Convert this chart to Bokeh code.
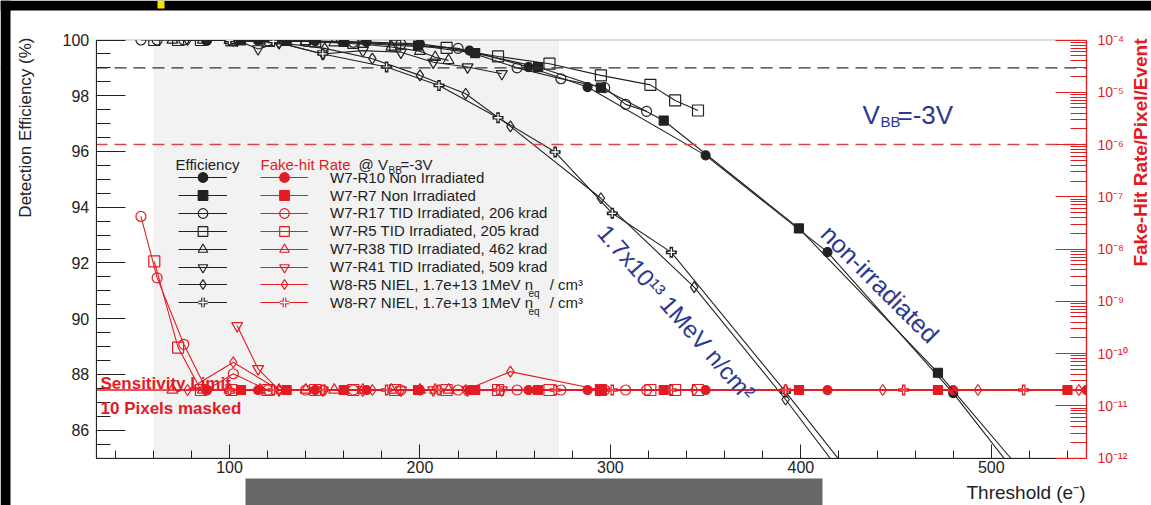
import math
from bokeh.plotting import figure
from bokeh.models import (Range1d, LogScale, LinearAxis, LogAxis, FixedTicker,
                          CustomJSTickFormatter, Span, BoxAnnotation, Label, Legend, LegendItem)
from bokeh.embed import file_html
from bokeh.resources import INLINE

# ---------------- data ----------------
LIM = 2e-11  # sensitivity limit (10 pixels masked)

names = ["W7-R10 Non Irradiated", "W7-R7 Non Irradiated",
         "W7-R17 TID Irradiated, 206 krad", "W7-R5 TID Irradiated, 205 krad",
         "W7-R38 TID Irradiated, 462 krad", "W7-R41 TID Irradiated, 509 krad",
         "W8-R5 NIEL, 1.7e+13 1MeV n    / cm\u00b3", "W8-R7 NIEL, 1.7e+13 1MeV n    / cm\u00b3"]

thr_r10 = [88, 115, 145, 172, 200, 226, 257, 288, 350, 414, 480, 550]
eff_r10 = [99.99, 99.98, 99.96, 99.93, 99.86, 99.62, 99.03, 98.31, 95.86, 92.39, 87.33, 81.2]
fhr_r10 = [LIM] * 12

thr_r7 = [106, 130, 160, 199, 229, 262, 295, 328, 399, 472, 540]
eff_r7 = [99.99, 99.97, 99.93, 99.80, 99.53, 99.03, 98.29, 97.11, 93.24, 88.06, 82.6]
fhr_r7 = [LIM] * 11

thr_r17 = [53.5, 62, 76, 88, 102, 120, 140, 165, 190, 220, 251, 274, 297, 308, 319]
eff_r17 = [100, 100, 100, 99.99, 99.98, 99.97, 99.95, 99.92, 99.85, 99.7, 99.0, 98.61, 98.29, 97.69, 97.44]
fhr_r17 = [4.2e-8, 2.8e-9, 1.5e-10, LIM, 4.1e-11, LIM, LIM, LIM, LIM, LIM, LIM, LIM, LIM, LIM, LIM]

thr_r5 = [60.5, 73, 85, 101, 120, 145, 165, 187, 214, 241, 268, 295, 321, 334, 346]
eff_r5 = [100, 100, 100, 99.99, 99.97, 99.95, 99.9, 99.80, 99.72, 99.41, 99.15, 98.73, 98.39, 97.83, 97.47]
fhr_r5 = [5.8e-9, 1.3e-10, LIM, LIM, LIM, LIM, LIM, LIM, LIM, LIM, LIM, LIM, LIM, LIM, LIM]

thr_r38 = [70, 86, 100, 116, 126, 140, 155, 170, 185, 200, 208, 215]
eff_r38 = [100, 100, 99.99, 99.98, 99.97, 99.95, 99.9, 99.85, 99.75, 99.6, 99.38, 99.27]
fhr_r38 = [LIM] * 12

thr_r41 = [104, 115, 126, 149, 170, 190, 207, 225, 243]
eff_r41 = [99.99, 99.68, 99.9, 99.5, 99.62, 99.56, 99.2, 99.03, 98.79]
fhr_r41 = [3.4e-10, 5.1e-11, LIM, LIM, LIM, LIM, LIM, LIM, LIM]

thr_w8r5 = [78, 102, 126, 150, 175, 200, 224, 247.5, 295, 344, 392, 443, 493, 546]
eff_w8r5 = [100, 99.98, 99.9, 99.7, 99.33, 98.73, 98.07, 96.9, 94.32, 91.13, 87.1, 82.5, 76.5, 69.0]
fhr_w8r5 = [LIM, 6.8e-11, LIM, LIM, LIM, LIM, LIM, 4.5e-11, LIM, LIM, LIM, LIM, LIM, LIM]

thr_w8r7 = [100, 123, 149, 182.5, 210, 241, 271, 301, 332, 392, 454, 517]
eff_w8r7 = [99.99, 99.95, 99.5, 99.03, 98.37, 97.21, 95.98, 93.78, 92.38, 87.37, 82.0, 75.0]
fhr_w8r7 = [LIM] * 12

eff_ticks = [86, 88, 90, 92, 94, 96, 98, 100]
eff_minor = [85 + 0.5 * i for i in range(31)]
thr_ticks = [100, 200, 300, 400, 500]
thr_minor = list(range(40, 551, 20))
fhr_ticks = [10.0 ** k for k in range(-12, -3)]
fhr_minor = [m * 10.0 ** k for k in range(-12, -4) for m in range(2, 10)]

# ---------------- geometry (pixel box of the axes inside the 1151x505 canvas) ----------------
W, H = 1151, 505
PX_L, PX_R, PX_T, PX_B = 95.7, 1086.0, 39.5, 457.5
X0, X1, Y0, Y1 = 30, 550, 85, 100
F0, F1 = 1e-12, 1e-4
kx = (PX_R - PX_L) / (X1 - X0)
ky = (PX_B - PX_T) / (Y1 - Y0)
kl = (PX_B - PX_T) / (math.log10(F1) - math.log10(F0))

def fx(px):
    return X0 + (px - PX_L) / kx

def fy(py):
    return Y0 + (PX_B - py) / ky

FONT = "Liberation Sans"
RED = "#e31b23"
BLUE = "#2b3990"
INK = "#222222"

p = figure(width=W, height=H, x_range=Range1d(fx(0), fx(W)), y_range=Range1d(fy(H), fy(0)),
           output_backend="svg", toolbar_location=None, min_border=0,
           x_axis_location=None, y_axis_location=None,
           background_fill_color="white", border_fill_color="white")
p.grid.visible = False
p.outline_line_color = None

p.extra_y_ranges = {"fhr": Range1d(10 ** (math.log10(F0) - (H - PX_B) / kl),
                                   10 ** (math.log10(F1) + PX_T / kl))}
p.extra_y_scales = {"fhr": LogScale()}

# ---------------- axes ----------------
xa = LinearAxis(fixed_location=Y0, bounds=(X0, X1),
                ticker=FixedTicker(ticks=thr_ticks, minor_ticks=thr_minor))
xa.major_tick_in = 14; xa.major_tick_out = 0
xa.minor_tick_in = 8; xa.minor_tick_out = 0
xa.major_label_text_font = FONT; xa.major_label_text_font_size = "16px"
xa.major_label_text_color = INK; xa.major_label_standoff = 3
xa.axis_line_color = INK; xa.major_tick_line_color = INK; xa.minor_tick_line_color = INK
xa.level = "overlay"
p.add_layout(xa, "below")

ya = LinearAxis(fixed_location=X0, bounds=(Y0, Y1),
                ticker=FixedTicker(ticks=eff_ticks, minor_ticks=eff_minor))
ya.major_tick_in = 29; ya.major_tick_out = 0
ya.minor_tick_in = 14; ya.minor_tick_out = 0
ya.major_label_text_font = FONT; ya.major_label_text_font_size = "16px"
ya.major_label_text_color = INK; ya.major_label_standoff = 7
ya.axis_line_color = INK; ya.major_tick_line_color = INK; ya.minor_tick_line_color = INK
ya.level = "overlay"
p.add_layout(ya, "left")

fmt = CustomJSTickFormatter(code="""
const e = Math.round(Math.log10(tick));
const m = {"-":"\u207b","0":"\u2070","1":"\u00b9","2":"\u00b2","3":"\u00b3","4":"\u2074",
           "5":"\u2075","6":"\u2076","7":"\u2077","8":"\u2078","9":"\u2079"};
return "10" + String(e).split("").map(c => m[c]).join("");
""")
ra = LogAxis(y_range_name="fhr", fixed_location=X1, bounds=(F0, F1),
             ticker=FixedTicker(ticks=fhr_ticks, minor_ticks=fhr_minor), formatter=fmt)
ra.major_tick_in = 31; ra.major_tick_out = 0
ra.minor_tick_in = 16; ra.minor_tick_out = 0
ra.axis_line_color = RED; ra.major_tick_line_color = RED; ra.minor_tick_line_color = RED
ra.axis_line_width = 1.3
ra.major_label_text_color = RED; ra.major_label_text_font = FONT
ra.major_label_text_font_size = "14px"; ra.major_label_standoff = 11
ra.level = "overlay"
p.add_layout(ra, "right")

# ---------------- shading and reference lines ----------------
p.add_layout(BoxAnnotation(left=60, right=273, bottom=Y0, top=Y1, fill_color="#f2f2f2",
                           fill_alpha=1.0, line_alpha=0, level="underlay"))
p.add_layout(Span(location=99, dimension="width", line_color="#333333", line_width=1.3,
                  line_dash="12 7"))
p.add_layout(Span(location=1e-6, dimension="width", y_range_name="fhr", line_color="#d9434c",
                  line_width=1.3, line_dash="12 7"))
p.add_layout(Span(location=LIM, dimension="width", y_range_name="fhr", line_color=RED,
                  line_width=1.6))

# ---------------- series ----------------
series = [
    (thr_r10, eff_r10, fhr_r10, "circle", 9, True),
    (thr_r7, eff_r7, fhr_r7, "square", 9, True),
    (thr_r17, eff_r17, fhr_r17, "circle", 10, False),
    (thr_r5, eff_r5, fhr_r5, "square", 11, False),
    (thr_r38, eff_r38, fhr_r38, "triangle", 11, False),
    (thr_r41, eff_r41, fhr_r41, "inverted_triangle", 11, False),
    (thr_w8r5, eff_w8r5, fhr_w8r5, "diamond", 11, False),
    (thr_w8r7, eff_w8r7, fhr_w8r7, "cross", 11, False),
]

items_eff, items_fhr = [], []
for name, (thr, eff, fhr, mk, sz, filled) in zip(names, series):
    rs_b, rs_r = [], []
    for color, yvals, rng, store in ((INK, eff, "default", rs_b), (RED, fhr, "fhr", rs_r)):
        kw = {} if rng == "default" else {"y_range_name": rng}
        store.append(p.line(thr, yvals, line_color=color, line_width=1.1, **kw))
        if mk == "cross":
            store.append(p.scatter(thr, yvals, marker="cross", size=sz, line_color=color,
                                   line_width=3.6, **kw))
            store.append(p.scatter(thr, yvals, marker="cross", size=sz - 3.5, line_color="white",
                                   line_width=1.3, **kw))
        else:
            store.append(p.scatter(thr, yvals, marker=mk, size=sz, line_color=color,
                                   line_width=1.2, fill_color=color if filled else None,
                                   fill_alpha=1.0 if filled else 0.0, **kw))
    items_eff.append(LegendItem(label=" ", renderers=rs_b))
    items_fhr.append(LegendItem(label=name, renderers=rs_r))

# ---------------- masks: hide what lies outside the axes box ----------------
for kw in (dict(right=X0), dict(left=X1), dict(bottom=Y1), dict(top=Y0)):
    p.add_layout(BoxAnnotation(fill_color="white", fill_alpha=1.0, line_alpha=0, **kw))
# black page edge and the small yellow mark at top
p.add_layout(BoxAnnotation(right=fx(10), fill_color="black", fill_alpha=1.0, line_alpha=0))
p.add_layout(BoxAnnotation(bottom=fy(10), fill_color="black", fill_alpha=1.0, line_alpha=0))
p.add_layout(BoxAnnotation(left=fx(157), right=fx(164), bottom=fy(8), top=fy(0),
                           fill_color="#f2e600", fill_alpha=1.0, line_alpha=0))
# axes frame (top edge)
p.add_layout(BoxAnnotation(left=X0, right=X1, bottom=Y0, top=Y1, fill_alpha=0,
                           line_color=INK, line_width=1.2))
# redaction box below the axis
p.add_layout(BoxAnnotation(left=fx(245), right=fx(822), top=fy(478),
                           fill_color="#676767", fill_alpha=1.0, line_alpha=0))

# ---------------- legends (one per row so the rows sit where they should) ----------------
ROW0, ROWSTEP = 177.2, 17.86
for i, (ie, ir) in enumerate(zip(items_eff, items_fhr)):
    yc = ROW0 + ROWSTEP * i
    for item, xleft, gw, std in ((ie, 178, 49, 0), (ir, 260, 48, 22)):
        lg = Legend(items=[item], location=(xleft, H - yc - 12))
        lg.glyph_width = gw; lg.glyph_height = 24; lg.spacing = 0
        lg.padding = 0; lg.margin = 0
        lg.label_standoff = std
        lg.label_text_font = FONT; lg.label_text_font_size = "15px"; lg.label_text_color = INK
        lg.label_height = 14
        if std == 0:
            lg.label_width = 0
        lg.background_fill_alpha = 0; lg.border_line_alpha = 0
        p.add_layout(lg)

# ---------------- texts ----------------
def lab(px, py, t, size, color=INK, style="normal", angle=0.0, align="left", base="alphabetic"):
    p.add_layout(Label(x=fx(px), y=fy(py), text=t, text_font=FONT, text_font_size=size,
                       text_color=color, text_font_style=style, angle=angle,
                       text_align=align, text_baseline=base, level="overlay"))

lab(175, 164, "Efficiency", "15px")
lab(260, 164, "Fake-hit Rate", "15px", RED)
lab(358, 164, "@ V", "15px")
lab(388, 170, "BB", "10px")
lab(400, 164, "=-3V", "15px")
lab(528, ROW0 + 6 * ROWSTEP + 9, "eq", "10px")
lab(528, ROW0 + 7 * ROWSTEP + 9, "eq", "10px")

lab(862, 114, "V", "26px", BLUE)
lab(880, 121, "BB", "15px", BLUE)
lab(897, 114, "=-3V", "26px", BLUE)

lab(602, 228, "1.7x10\u00b9\u00b3 1MeV n/cm\u00b2", "24px", BLUE, angle=-0.85, base="middle")
lab(825, 229, "non-irradiated", "25px", BLUE, angle=-0.785, base="middle")

lab(100, 383, "Sensitivity Limit", "17px", RED, style="bold")
lab(100, 408, "10 Pixels masked", "17px", RED, style="bold")

lab(1085, 492, "Threshold (e\u207b)", "19px", align="right")
lab(25, 37, "Detection Efficiency (%)", "17px", angle=math.pi / 2, align="right", base="middle")
lab(1140, 38, "Fake-Hit Rate/Pixel/Event", "19px", RED, style="bold", angle=math.pi / 2,
    align="right", base="middle")

open("out.html", "w").write(file_html(p, INLINE))
